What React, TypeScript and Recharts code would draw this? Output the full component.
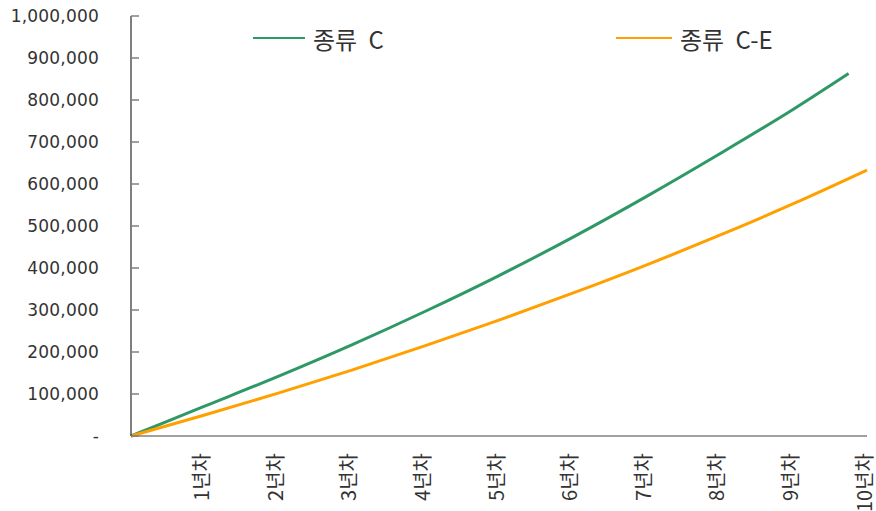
import { LineChart, Line, XAxis, YAxis } from "recharts";

// 종류 C: 마지막 값은 9.75년차 지점에서 끝남
const cYears = [0, 1, 2, 3, 4, 5, 6, 7, 8, 9, 9.75];
const cValues = [0, 71000, 142000, 217000, 297000, 382000, 473000, 570000, 672000, 778000, 863000];

const ceYears = [0, 1, 2, 3, 4, 5, 6, 7, 8, 9, 10];
const ceValues = [0, 50000, 102000, 157000, 215000, 276000, 340000, 407000, 478000, 553000, 633000];

const yearTicks = [1, 2, 3, 4, 5, 6, 7, 8, 9, 10];
const valueTicks = [0, 100000, 200000, 300000, 400000, 500000, 600000, 700000, 800000, 900000, 1000000];

const seriesNames = ["종류 C", "종류 C-E"];
const seriesColors = ["#2e9966", "#ffa000"];

const cData = cYears.map((year, i) => ({ year, value: cValues[i] }));
const ceData = ceYears.map((year, i) => ({ year, value: ceValues[i] }));

const fmt = (v: number) => (v === 0 ? "-" : v.toLocaleString("en-US"));

function YearTick({ x, y, payload }: any) {
  return (
    <text
      transform={`translate(${x - 4},${y}) rotate(-90)`}
      textAnchor="end"
      dominantBaseline="central"
      fontSize={20}
      fontFamily="'Noto Sans CJK KR', sans-serif"
      fill="#333"
    >
      {payload.value}년차
    </text>
  );
}

export default function App() {
  return (
    <div style={{ position: "absolute", left: 0, top: 0, width: 876, height: 511, background: "#fff" }}>
      <LineChart
        width={876}
        height={511}
        margin={{ top: 16, right: 9, left: 0, bottom: 0 }}
      >
        <XAxis
          dataKey="year"
          type="number"
          domain={[0, 10]}
          ticks={yearTicks}
          tick={<YearTick />}
          tickLine={false}
          tickSize={0}
          tickMargin={17}
          height={75}
          stroke="#808080"
          strokeWidth={1.5}
          allowDuplicatedCategory={false}
        />
        <YAxis
          dataKey="value"
          type="number"
          domain={[0, 1000000]}
          ticks={valueTicks}
          tickFormatter={fmt}
          width={131}
          tickSize={-8}
          tickMargin={40}
          stroke="#000"
          tickLine={{ stroke: "#808080", strokeWidth: 1.5 }}
          tick={{ fill: "#333", fontSize: 17, fontFamily: "'DejaVu Sans', sans-serif", letterSpacing: 0.2 }}
        />
        <Line
          data={cData}
          dataKey="value"
          name={seriesNames[0]}
          type="monotone"
          stroke={seriesColors[0]}
          strokeWidth={3}
          dot={false}
          isAnimationActive={false}
        />
        <Line
          data={ceData}
          dataKey="value"
          name={seriesNames[1]}
          type="monotone"
          stroke={seriesColors[1]}
          strokeWidth={3}
          dot={false}
          isAnimationActive={false}
        />
      </LineChart>
      {[
        { left: 253, lineW: 52 },
        { left: 616, lineW: 56 },
      ].map((pos, i) => (
        <div
          key={seriesNames[i]}
          style={{
            position: "absolute",
            left: pos.left,
            top: 24,
            height: 28,
            display: "flex",
            alignItems: "center",
            fontFamily: "'Noto Sans CJK KR', sans-serif",
            fontSize: 24,
            color: "#333",
            wordSpacing: 6,
            whiteSpace: "nowrap",
          }}
        >
          <span style={{ display: "inline-block", width: pos.lineW, height: 2, background: seriesColors[i], marginRight: 8 }} />
          <span>{seriesNames[i]}</span>
        </div>
      ))}
    </div>
  );
}
